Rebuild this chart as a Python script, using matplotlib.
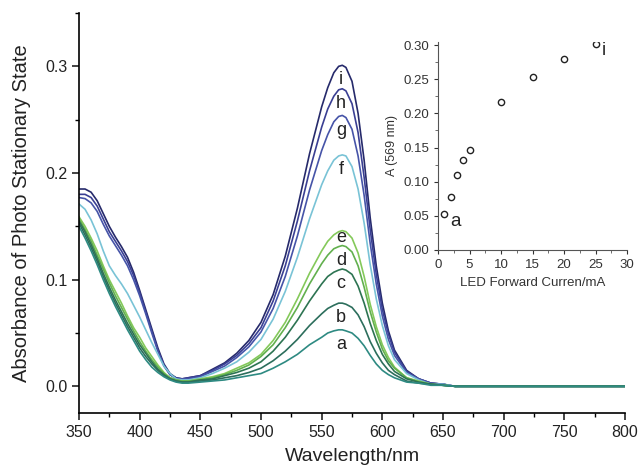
import matplotlib
matplotlib.use('Agg')
import matplotlib.pyplot as plt
from matplotlib.ticker import MultipleLocator, FormatStrFormatter

plt.rcParams['font.family'] = ['Liberation Sans', 'DejaVu Sans']

# wavelength grid (nm)
wavelength = [350, 355, 360, 365, 370, 375, 380, 385, 390, 395, 400, 405, 410, 415, 420, 425, 430, 435, 440,
              450, 460, 470, 480, 490, 500, 510, 520, 530, 540,
              550, 555, 560, 564, 567, 570, 575, 580, 585, 590,
              595, 600, 605, 610, 620, 630, 640, 650, 660,
              680, 700, 720, 750, 780, 800]

abs_a = [.150, .139, .127, .114, .100, .087, .075, .064, .053, .043, .033, .025, .018, .013, .009, .006, .004, .003, .003,
         .004, .005, .006, .008, .010, .012, .017, .023, .030, .039,
         .046, .050, .052, .053, .053, .052, .050, .045, .038, .029,
         .021, .015, .011, .008, .004, .003, .001, .001, .000,
         0, 0, 0, 0, 0, 0]
abs_b = [.153, .142, .130, .117, .103, .090, .078, .067, .056, .046, .036, .028, .021, .015, .010, .007, .005, .004, .004,
         .005, .006, .008, .010, .013, .017, .024, .033, .044, .057,
         .068, .073, .076, .078, .078, .077, .074, .067, .056, .042,
         .031, .022, .015, .011, .005, .003, .002, .001, .000,
         0, 0, 0, 0, 0, 0]
abs_c = [.155, .145, .133, .120, .106, .093, .081, .070, .059, .049, .039, .031, .023, .016, .011, .007, .005, .004, .004,
         .006, .007, .010, .013, .017, .023, .033, .046, .062, .080,
         .096, .103, .107, .109, .110, .109, .105, .094, .078, .059,
         .043, .030, .021, .014, .007, .004, .002, .001, .000,
         0, 0, 0, 0, 0, 0]
abs_d = [.157, .147, .136, .123, .110, .097, .085, .074, .063, .052, .042, .033, .025, .018, .012, .008, .006, .005, .005,
         .006, .008, .011, .015, .020, .028, .039, .055, .074, .096,
         .115, .123, .129, .131, .132, .131, .126, .113, .093, .070,
         .051, .035, .024, .017, .008, .004, .002, .001, .000,
         0, 0, 0, 0, 0, 0]
abs_e = [.159, .150, .139, .127, .113, .100, .089, .078, .066, .055, .046, .036, .028, .020, .013, .008, .006, .005, .005,
         .007, .009, .012, .017, .022, .030, .043, .060, .082, .106,
         .127, .136, .142, .145, .146, .145, .139, .125, .103, .077,
         .056, .039, .027, .018, .008, .005, .002, .001, .000,
         0, 0, 0, 0, 0, 0]
abs_f = [.171, .166, .156, .143, .127, .113, .104, .096, .087, .076, .065, .053, .041, .030, .019, .012, .007, .006, .006,
         .008, .012, .017, .023, .032, .044, .063, .089, .121, .157,
         .189, .202, .212, .216, .217, .216, .206, .185, .153, .114,
         .082, .057, .038, .025, .012, .006, .002, .002, .000,
         0, 0, 0, 0, 0, 0]
abs_g = [.177, .176, .172, .164, .152, .141, .132, .123, .113, .100, .085, .068, .050, .033, .019, .011, .007, .007, .007,
         .009, .014, .019, .027, .037, .051, .073, .103, .141, .184,
         .221, .236, .248, .253, .254, .252, .241, .216, .179, .134,
         .096, .066, .044, .029, .013, .007, .003, .002, .000,
         0, 0, 0, 0, 0, 0]
abs_h = [.180, .180, .177, .169, .157, .145, .136, .127, .117, .104, .088, .070, .052, .034, .020, .011, .008, .007, .008,
         .010, .015, .021, .029, .040, .055, .080, .113, .155, .202,
         .243, .260, .272, .278, .279, .277, .265, .238, .196, .147,
         .105, .072, .049, .032, .014, .007, .003, .002, .000,
         0, 0, 0, 0, 0, 0]
abs_i = [.185, .185, .182, .174, .162, .150, .140, .131, .121, .107, .090, .072, .054, .036, .021, .012, .008, .007, .008,
         .010, .016, .022, .031, .043, .060, .086, .122, .167, .218,
         .262, .280, .294, .300, .301, .299, .286, .256, .212, .158,
         .113, .078, .052, .034, .015, .007, .003, .002, .000,
         0, 0, 0, 0, 0, 0]

curve_labels = ['i', 'h', 'g', 'f', 'e', 'd', 'c', 'b', 'a']
curves = [abs_i, abs_h, abs_g, abs_f, abs_e, abs_d, abs_c, abs_b, abs_a]
colors = ['#262a6b', '#3a3f93', '#4654a8', '#79c3d6', '#84c95a',
          '#62b04e', '#2d7452', '#2c6e5c', '#2e8a82']

# inset: absorbance at 569 nm vs LED current
current = [1, 2, 3, 4, 5, 10, 15, 20, 25]
a569 = [0.053, 0.078, 0.110, 0.132, 0.146, 0.217, 0.254, 0.279, 0.301]

fig = plt.figure(figsize=(6.4, 4.75), dpi=100)
ax = fig.add_axes([0.1234, 0.1305, 0.8532, 0.8421])

ipk = wavelength.index(567)
for y, c, lab in zip(curves, colors, curve_labels):
    ax.plot(wavelength, y, color=c, lw=1.2)
    dy = 0.011 if lab == 'e' else 0.018
    ax.text(566, y[ipk] - dy, lab, fontsize=13, ha='center', va='baseline', color='#222222')

ax.set_xlim(350, 800)
ax.set_ylim(-0.025, 0.35)
ax.xaxis.set_major_locator(MultipleLocator(50))
ax.xaxis.set_minor_locator(MultipleLocator(25))
ax.yaxis.set_major_locator(MultipleLocator(0.1))
ax.yaxis.set_minor_locator(MultipleLocator(0.05))
ax.yaxis.set_major_formatter(FormatStrFormatter('%.1f'))
for s in ['top', 'right']:
    ax.spines[s].set_visible(False)
for s in ['left', 'bottom']:
    ax.spines[s].set_linewidth(1.2)
ax.tick_params(which='major', direction='out', length=5, width=1.2, labelsize=11.5, colors='#222222')
ax.tick_params(which='minor', direction='out', length=3, width=1.0)
ax.set_xlabel('Wavelength/nm', fontsize=14, color='#222222', labelpad=6)
ax.set_ylabel('Absorbance of Photo Stationary State', fontsize=14.5, color='#222222', labelpad=10)

ins = fig.add_axes([0.6844, 0.4737, 0.2953, 0.4385])
ins.patch.set_alpha(0)
ins.plot(current, a569, 'o', mfc='none', mec='#222222', ms=4.5, mew=1.0)
ins.text(current[0] + 1.0, a569[0] - 0.012, 'a', fontsize=13.5, ha='left', va='center', color='#222222')
ins.text(current[-1] + 1.0, a569[-1] - 0.009, 'i', fontsize=13.5, ha='left', va='center', color='#222222')
ins.set_xlim(0, 30)
ins.set_ylim(0, 0.305)
ins.xaxis.set_major_locator(MultipleLocator(5))
ins.xaxis.set_minor_locator(MultipleLocator(2.5))
ins.yaxis.set_major_locator(MultipleLocator(0.05))
ins.yaxis.set_minor_locator(MultipleLocator(0.025))
ins.yaxis.set_major_formatter(FormatStrFormatter('%.2f'))
for s in ['top', 'right']:
    ins.spines[s].set_visible(False)
for s in ['left', 'bottom']:
    ins.spines[s].set_linewidth(0.8)
    ins.spines[s].set_color('#555555')
ins.tick_params(which='major', direction='out', length=3, width=0.8, labelsize=9.5, colors='#333333')
ins.tick_params(which='minor', direction='out', length=2, width=0.6, colors='#555555')
ins.set_xlabel('LED Forward Curren/mA', fontsize=9.5, color='#333333')
ins.set_ylabel('A (569 nm)', fontsize=9, color='#333333')

fig.savefig('out.png', dpi=100)
